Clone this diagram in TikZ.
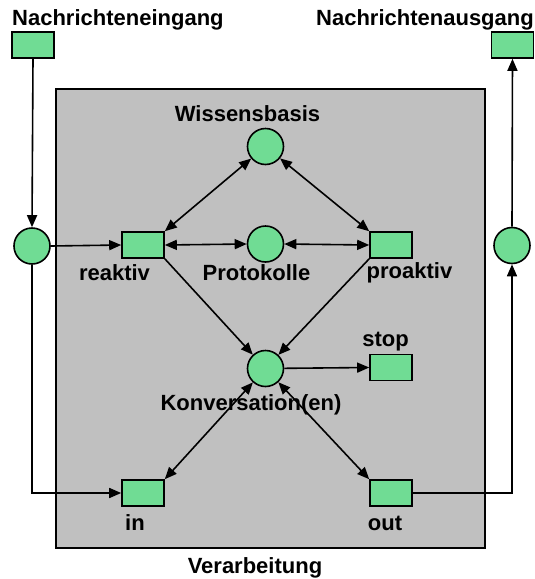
\documentclass[tikz,border=0pt]{standalone}
\usepackage{fontspec}
\setmainfont{Liberation Sans}
\usetikzlibrary{arrows.meta}
\definecolor{petrigreen}{RGB}{112,220,148}
\definecolor{boxgray}{RGB}{192,192,192}
\begin{document}
\begin{tikzpicture}[x=1pt,y=-1pt,
  every node/.style={font=\fontsize{22}{26}\selectfont\bfseries},
  trans/.style={draw=black,fill=petrigreen,line width=1.6pt,minimum width=42pt,minimum height=26pt,inner sep=0pt},
  place/.style={circle,draw=black,fill=petrigreen,line width=1.6pt,minimum size=36pt,inner sep=0pt},
  lbl/.style={inner sep=0pt},
  conn/.style={line width=1.6pt,draw=black},
  tip/.style={-{Triangle[length=12pt,width=10pt]}},
  dtip/.style={{Triangle[length=12pt,width=10pt]}-{Triangle[length=12pt,width=10pt]}}]
\useasboundingbox (0,0) rectangle (535,579);
\fill[white] (0,0) rectangle (535,579);
% processing area
\draw[fill=boxgray,line width=2pt] (56,89) rectangle (485,548);
% nodes
\node[trans] (einb) at (33,45) {};
\node[trans] (ausb) at (512.5,45) {};
\node[place] (lp) at (32,246) {};
\node[place] (rp) at (512,245.5) {};
\node[trans] (reaktiv) at (143,245) {};
\node[place] (prot) at (265.5,244) {};
\node[trans] (proaktiv) at (391,245) {};
\node[place] (wiss) at (265.5,146.5) {};
\node[place] (konv) at (265.5,368.5) {};
\node[trans] (stop) at (391,367.5) {};
\node[trans] (inb) at (143,493) {};
\node[trans] (outb) at (391,493) {};
% labels
\node[lbl,anchor=base west] (l1) at (12,25) {Nachrichteneingang};
\node[lbl,anchor=base west] (l2) at (316,25) {Nachrichtenausgang};
\node[lbl,anchor=base] (l3) at (247.5,121) {Wissensbasis};
\node[lbl,anchor=base] (l4) at (114.5,280) {reaktiv};
\node[lbl,anchor=base] (l5) at (256.5,280) {Protokolle};
\node[lbl,anchor=base] (l6) at (409.5,278.5) {proaktiv};
\node[lbl,anchor=base] (l7) at (385.5,346.5) {stop};
\node[lbl,anchor=base] (l8) at (251,410.5) {Konversation(en)};
\node[lbl,anchor=base] (l9) at (135,530) {in};
\node[lbl,anchor=base] (l10) at (385,530) {out};
\node[lbl,anchor=base] (l11) at (255,573) {Verarbeitung};
% connectors
\draw[conn,tip] (einb.south) -- (lp.north);
\draw[conn,tip] (lp.east) -- (reaktiv.west);
\draw[conn,tip] (lp.south) |- (inb.west);
\draw[conn,dtip] (reaktiv.east) -- (prot.west);
\draw[conn,dtip] (prot.east) -- (proaktiv.west);
\draw[conn,dtip] (wiss) -- (reaktiv.north east);
\draw[conn,dtip] (wiss) -- (proaktiv.north west);
\draw[conn,tip] (reaktiv.south east) -- (konv);
\draw[conn,tip] (proaktiv.south west) -- (konv);
\draw[conn,tip] (konv) -- (stop.west);
\draw[conn,dtip] (konv) -- (inb.north east);
\draw[conn,dtip] (konv) -- (outb.north west);
\draw[conn,tip] (outb.east) -| (rp.south);
\draw[conn,tip] (rp.north) -- (ausb.south);
\end{tikzpicture}
\end{document}
